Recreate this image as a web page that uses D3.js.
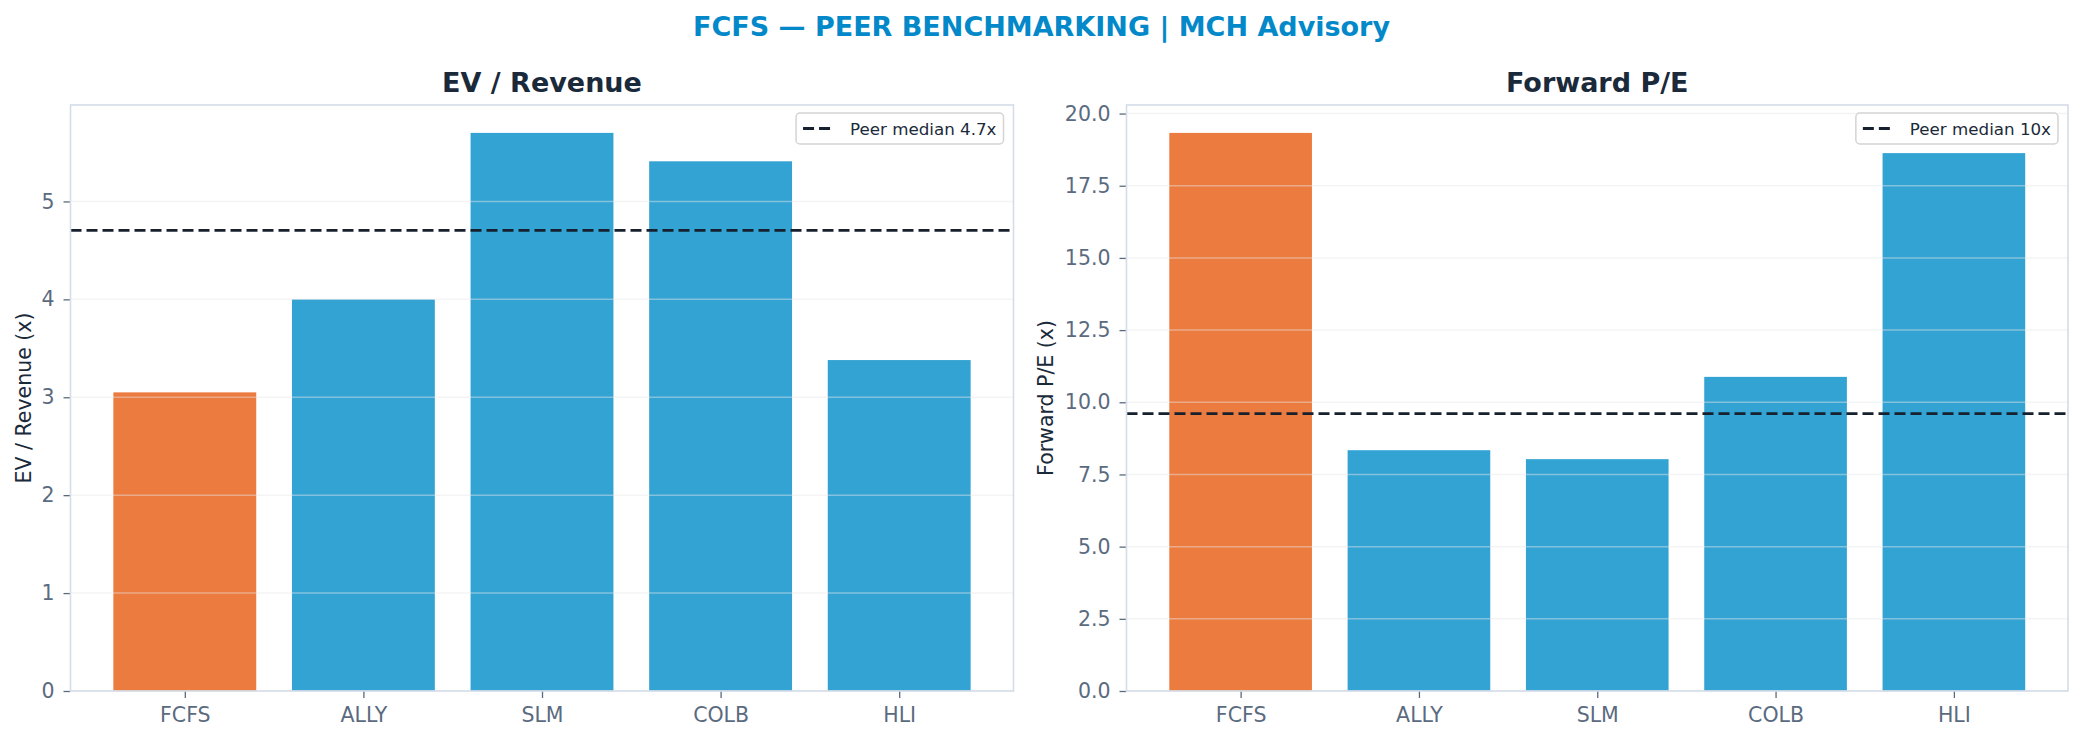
<!DOCTYPE html>
<html>
<head>
<meta charset="utf-8">
<script src="https://cdn.jsdelivr.net/npm/d3@7"></script>
<style>
  body { margin: 0; background: #fff; }
  text { font-family: "DejaVu Sans", sans-serif; }
</style>
</head>
<body>
<div id="chart"></div>
<script>
// data
const tickers = ['FCFS', 'ALLY', 'SLM', 'COLB', 'HLI']
const evRevenue = [3.05, 4.0, 5.7, 5.41, 3.38]
const forwardPE = [19.33, 8.34, 8.03, 10.88, 18.63]
const evTicks = [0, 1, 2, 3, 4, 5]
const peTicks = [0, 2.5, 5, 7.5, 10, 12.5, 15, 17.5, 20]

const W = 2083, H = 741
const orange = '#ec7b3f', blue = '#33a3d3'
const slate = '#5b6b7f', dark = '#1b2a3a', spineColor = '#d5dde8'
const dashColor = '#17202e'

const svg = d3.select('#chart').append('svg')
    .attr('width', W)
    .attr('height', H)

svg.append('text')
    .attr('x', W / 2)
    .attr('y', 36)
    .attr('text-anchor', 'middle')
    .attr('font-size', 27)
    .attr('font-weight', 'bold')
    .attr('fill', '#0389c9')
    .text('FCFS — PEER BENCHMARKING | MCH Advisory')

function drawPanel(opts) {
    const {left, right, top, bottom, values, ticks, tickFmt, title, yLabel, labelOffset, medianFmt} = opts

    // matplotlib style: bar width 0.8, 5% margin on each side of the data span
    const x = d3.scaleLinear()
        .domain([-0.64, tickers.length - 1 + 0.64])
        .range([left, right])
    const barW = x(0.8) - x(0)

    const y = d3.scaleLinear()
        .domain([0, d3.max(values) * 1.05])
        .range([bottom, top])

    const g = svg.append('g')

    // bars
    g.selectAll('.bar')
        .data(values)
        .join('rect')
        .attr('class', 'bar')
        .attr('x', (d, i) => x(i) - barW / 2)
        .attr('y', d => y(d))
        .attr('width', barW)
        .attr('height', d => bottom - y(d))
        .attr('fill', (d, i) => i === 0 ? orange : blue)

    // grid drawn over the bars
    g.selectAll('.grid')
        .data(ticks)
        .join('line')
        .attr('class', 'grid')
        .attr('x1', left).attr('x2', right)
        .attr('y1', d => y(d)).attr('y2', d => y(d))
        .attr('stroke', '#e6e6e6')
        .attr('stroke-opacity', 0.45)
        .attr('stroke-width', 1.5)

    // peer median line
    const med = d3.median(values.slice(1))
    g.append('line')
        .attr('x1', left).attr('x2', right)
        .attr('y1', y(med)).attr('y2', y(med))
        .attr('stroke', dashColor)
        .attr('stroke-width', 2.8)
        .attr('stroke-dasharray', '11,5')

    // axes
    const yAxis = d3.axisLeft(y).tickValues(ticks).tickFormat(tickFmt).tickSize(7).tickPadding(9)
    const ya = g.append('g').attr('transform', `translate(${left},0)`).call(yAxis)
    ya.select('.domain').remove()
    ya.selectAll('line').attr('stroke', slate).attr('stroke-width', 1.3)
    ya.selectAll('text').attr('fill', slate).attr('font-size', 20.5)

    const xAxis = d3.axisBottom(x).tickValues(d3.range(tickers.length))
        .tickFormat(i => tickers[i]).tickSize(7).tickPadding(9)
    const xa = g.append('g').attr('transform', `translate(0,${bottom})`).call(xAxis)
    xa.select('.domain').remove()
    xa.selectAll('line').attr('stroke', slate).attr('stroke-width', 1.3)
    xa.selectAll('text').attr('fill', slate).attr('font-size', 20.5)

    // spines
    g.append('rect')
        .attr('x', left).attr('y', top)
        .attr('width', right - left).attr('height', bottom - top)
        .attr('fill', 'none')
        .attr('stroke', spineColor)
        .attr('stroke-width', 1.6)

    // titles
    g.append('text')
        .attr('x', (left + right) / 2)
        .attr('y', top - 13)
        .attr('text-anchor', 'middle')
        .attr('font-size', 27)
        .attr('font-weight', 'bold')
        .attr('fill', dark)
        .text(title)

    g.append('text')
        .attr('transform', `translate(${left - labelOffset},${(top + bottom) / 2}) rotate(-90)`)
        .attr('text-anchor', 'middle')
        .attr('font-size', 20.5)
        .attr('fill', dark)
        .text(yLabel)

    // legend
    const label = 'Peer median ' + medianFmt(med) + 'x'
    const lg = g.append('g')
    const txt = lg.append('text')
        .attr('font-size', 16.7)
        .attr('fill', dark)
        .text(label)
    const tw = txt.node().getComputedTextLength()
    const boxW = tw + 61, boxH = 31
    const bx = right - 10 - boxW, by = top + 8
    lg.insert('rect', 'text')
        .attr('x', bx).attr('y', by)
        .attr('width', boxW).attr('height', boxH)
        .attr('rx', 4)
        .attr('fill', '#fff')
        .attr('fill-opacity', 0.9)
        .attr('stroke', '#d4d4d4')
        .attr('stroke-width', 1.5)
    lg.append('line')
        .attr('x1', bx + 7).attr('x2', bx + 39)
        .attr('y1', by + boxH / 2).attr('y2', by + boxH / 2)
        .attr('stroke', dashColor)
        .attr('stroke-width', 2.8)
        .attr('stroke-dasharray', '11,5')
    txt.attr('x', bx + 54).attr('y', by + boxH / 2 + 6)
}

drawPanel({
    left: 70.5, right: 1013.5, top: 105, bottom: 691,
    values: evRevenue, ticks: evTicks, tickFmt: d3.format('d'),
    title: 'EV / Revenue', yLabel: 'EV / Revenue (x)', labelOffset: 40,
    medianFmt: d3.format('.1f')
})

drawPanel({
    left: 1126.5, right: 2068, top: 105, bottom: 691,
    values: forwardPE, ticks: peTicks, tickFmt: d3.format('.1f'),
    title: 'Forward P/E', yLabel: 'Forward P/E (x)', labelOffset: 74,
    medianFmt: d3.format('.0f')
})
</script>
</body>
</html>
